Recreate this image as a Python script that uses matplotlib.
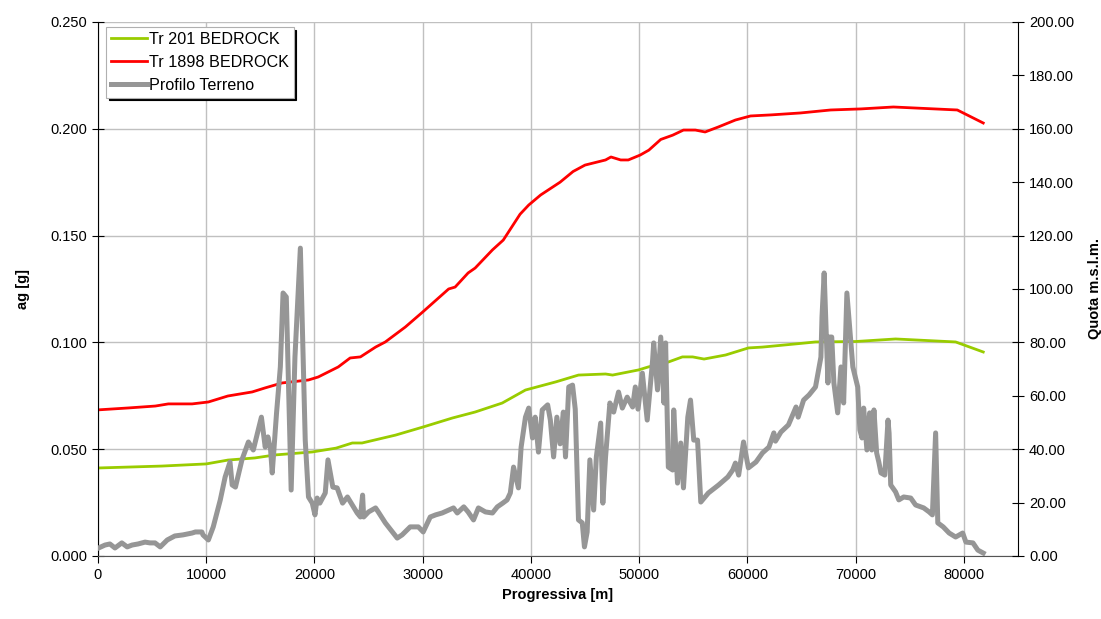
"""
Peak ground acceleration along the alignment with the terrain profile
on a secondary axis.
"""

import matplotlib.pyplot as plt
from matplotlib.ticker import FormatStrFormatter, MultipleLocator

plt.rcParams["font.family"] = ["Liberation Sans", "DejaVu Sans"]

# Tr 201 BEDROCK (ag [g])
tr201_x = [0, 5900, 10000, 12000, 14500, 16350, 19800, 22000, 23500, 24400,
           27500, 30050, 32750, 34850, 37350, 39500, 42300, 44400, 46900,
           47550, 49950, 50850, 52700, 54000, 54950, 56000, 58000, 60100,
           61400, 64500, 66300, 70000, 73700, 79250, 81800]
tr201_ag = [0.0412, 0.0421, 0.0431, 0.0449, 0.0459, 0.0473, 0.0487, 0.0505,
            0.0529, 0.0529, 0.0566, 0.0604, 0.0646, 0.0674, 0.0716, 0.0777,
            0.0815, 0.0847, 0.0852, 0.0847, 0.0871, 0.0885, 0.0908, 0.0932,
            0.0932, 0.0922, 0.0941, 0.0974, 0.0978, 0.0993, 0.1002, 0.1004,
            0.1016, 0.1002, 0.0955]

# Tr 1898 BEDROCK (ag [g])
tr1898_x = [0, 2800, 5300, 6500, 8700, 10200, 12000, 14250, 15450, 17000,
            19450, 20350, 22200, 23300, 24250, 25650, 26550, 28400, 30000,
            32400, 33000, 34200, 34850, 36450, 37450, 39000, 39800, 40900,
            42700, 43900, 45000, 46900, 47400, 48300, 49000, 50100, 50900,
            52000, 53100, 54100, 55200, 56100, 57300, 58900, 60300, 62200,
            64900, 67700, 70500, 73500, 79400, 81800]
tr1898_ag = [0.0684, 0.0693, 0.0702, 0.0712, 0.0712, 0.0721, 0.0749, 0.0768,
             0.0787, 0.0810, 0.0824, 0.0838, 0.0885, 0.0927, 0.0932, 0.0978,
             0.1002, 0.1072, 0.1142, 0.1250, 0.1259, 0.1325, 0.1348, 0.1433,
             0.1479, 0.1600, 0.1643, 0.1690, 0.1750, 0.1800, 0.1830, 0.1854,
             0.1868, 0.1854, 0.1854, 0.1877, 0.1900, 0.1950, 0.1970, 0.1994,
             0.1994, 0.1985, 0.2008, 0.2041, 0.2060, 0.2065, 0.2074, 0.2088,
             0.2093, 0.2102, 0.2088, 0.2027]

# Profilo Terreno (quota m s.l.m.)
terrain_x = [
    0, 650, 1100, 1570, 2200, 2700, 3150, 3700, 4350, 4800, 5270, 5750, 6400,
    7100, 7850, 8700, 9000, 9600, 9700, 10200, 10650, 11300, 11750, 12200,
    12400, 12700, 13300, 13900, 14350, 15100, 15450, 15700, 15950, 16100,
    16500, 16850, 17100, 17400, 17850, 18200, 18700, 18950, 19150, 19450,
    19800, 20050, 20250, 20500, 21000, 21250, 21700, 22100, 22600, 23050,
    23500, 23950, 24250, 24450, 24550, 25000, 25650, 25900, 26550, 27200,
    27650, 28100, 28850, 29600, 30050, 30700, 31200, 31800, 32400, 32850,
    33200, 33800, 34200, 34700, 35150, 35800, 36450, 36900, 37400, 37800,
    38100, 38400, 38850, 39100, 39500, 39800, 40150, 40400, 40700, 41050,
    41550, 41800, 42100, 42400, 42700, 43000, 43200, 43500, 43850, 44100,
    44400, 44750, 44950, 45200, 45450, 45800, 46050, 46450, 46650, 46900,
    47300, 47650, 48100, 48450, 48900, 49400, 49650, 49900, 50300, 50750,
    51250, 51350, 51700, 52000, 52300, 52450, 52700, 53100, 53200, 53550,
    53850, 54100, 54500, 54750, 55050, 55400, 55700, 56400, 57350, 58200,
    58650, 58900, 59200, 59650, 60100, 60800, 61400, 62000, 62450, 62600,
    63100, 63800, 64500, 64700, 65200, 65700, 66300, 66800, 66900, 67100,
    67250, 67450, 67550, 67800, 68000, 68350, 68650, 68900, 69200, 69400,
    69750, 70200, 70400, 70600, 70750, 71050, 71300, 71500, 71700, 71950,
    72150, 72350, 72700, 73000, 73100, 73250, 73700, 74000, 74450, 75100,
    75550, 76300, 76800, 77100, 77200, 77400, 77600, 78100, 78650, 79250,
    79900, 80200, 80850, 81300, 81800,
]
terrain_z = [
    2.9, 4.1, 4.5, 3.0, 4.9, 3.4, 4.1, 4.5, 5.2, 4.9, 4.9, 3.4, 6.0,
    7.5, 7.9, 8.6, 9.0, 9.0, 7.9, 6.0, 10.9, 21.0, 29.6, 35.2,
    26.6, 25.8, 36.0, 42.7, 39.7, 52.0, 40.8, 44.6, 39.7, 31.1,
    53.6, 70.8, 98.5, 97.0, 24.7, 74.5, 115.3, 74.5, 43.4, 22.1,
    19.8, 15.4, 21.7, 19.8, 23.6, 36.0, 25.8, 25.5, 19.8, 22.1,
    19.1, 16.1, 14.6, 22.8, 14.6, 16.5, 18.0, 16.5, 12.4, 9.0,
    6.7, 7.9, 10.9, 10.9, 9.0, 14.6, 15.4, 16.1, 17.2, 18.0,
    16.1, 18.4, 16.5, 13.5, 18.0, 16.5, 16.1, 18.4, 19.8, 21.0,
    23.6, 33.3, 25.5, 40.8, 52.0, 55.4, 44.2, 52.0, 38.9, 54.7,
    56.6, 50.9, 37.1, 52.0, 42.0, 53.9, 37.1, 63.3, 64.0, 55.0,
    13.5, 12.4, 3.4, 9.0, 36.0, 17.2, 37.1, 49.8, 19.8, 37.1,
    57.3, 53.9, 61.4, 55.4, 59.5, 55.8, 63.3, 55.0, 68.5, 50.9,
    73.4, 79.8, 62.2, 82.0, 57.3, 79.8, 33.3, 32.2, 54.7, 27.3,
    42.3, 25.5, 52.0, 58.4, 43.4, 43.4, 20.2, 23.6, 26.6, 29.6,
    32.2, 34.8, 30.3, 42.7, 33.0, 35.2, 38.6, 40.8, 46.1, 43.0,
    46.4, 49.1, 55.8, 52.0, 58.4, 60.3, 63.3, 74.5, 89.5, 106.0,
    88.4, 64.8, 82.0, 82.0, 64.8, 53.6, 70.8, 57.3, 98.5, 88.4,
    70.8, 63.3, 47.2, 44.2, 55.4, 39.7, 53.6, 39.7, 54.7, 38.6,
    35.2, 31.1, 30.3, 50.9, 46.0, 26.6, 24.0, 21.0, 22.1, 21.7,
    19.1, 18.0, 16.5, 15.4, 25.8, 46.1, 12.4, 10.9, 8.6, 7.1,
    8.6, 5.2, 4.9, 2.2, 1.1,
]


def main() -> None:
    fig = plt.figure(figsize=(11.01, 6.19), dpi=100)
    ax = fig.add_axes([0.089, 0.1018, 0.8355, 0.8627])
    ax2 = ax.twinx()

    l1, = ax.plot(tr201_x, tr201_ag, color="#99cc00", lw=2.0,
                  label="Tr 201 BEDROCK")
    l2, = ax.plot(tr1898_x, tr1898_ag, color="#ff0000", lw=2.0,
                  label="Tr 1898 BEDROCK")
    l3, = ax2.plot(terrain_x, terrain_z, color="#969696", lw=3.6,
                   label="Profilo Terreno", solid_joinstyle="round")

    ax.set_xlim(0, 85000)
    ax.set_ylim(0, 0.25)
    ax2.set_ylim(0, 200)

    ax.xaxis.set_major_locator(MultipleLocator(10000))
    ax.yaxis.set_major_locator(MultipleLocator(0.05))
    ax.yaxis.set_major_formatter(FormatStrFormatter("%.3f"))
    ax2.yaxis.set_major_locator(MultipleLocator(20))
    ax2.yaxis.set_major_formatter(FormatStrFormatter("%.2f"))

    ax.grid(True, color="#c0c0c0", lw=1.0)
    ax.set_axisbelow(True)

    for a in (ax, ax2):
        a.spines["top"].set_visible(False)
    ax.spines["right"].set_visible(False)
    ax.spines["left"].set_color("black")
    ax.spines["bottom"].set_color("#555555")
    ax2.spines["left"].set_visible(False)
    ax2.spines["bottom"].set_visible(False)
    ax2.spines["right"].set_color("black")

    ax.tick_params(axis="x", direction="out", length=5, labelsize=10.5,
                   pad=4)
    ax.tick_params(axis="y", direction="inout", length=8, labelsize=10.5,
                   pad=4)
    ax2.tick_params(axis="y", direction="inout", length=8, labelsize=10.5,
                    pad=4)

    ax.set_xlabel("Progressiva [m]", fontsize=10.5, fontweight="bold",
                  labelpad=4)
    ax.set_ylabel("ag [g]", fontsize=10.5, fontweight="bold", labelpad=14)
    ax2.set_ylabel("Quota m.s.l.m.", fontsize=10.5, fontweight="bold",
                   labelpad=10)

    leg = ax2.legend(handles=[l1, l2, l3], loc="upper left",
                     bbox_to_anchor=(0.009, 0.991), borderaxespad=0,
                     fontsize=11.6, handlelength=2.2, handletextpad=0.15,
                     labelspacing=0.5, borderpad=0.3, fancybox=False,
                     framealpha=1, edgecolor="#b0b0b0",
                     shadow={"color": "black", "alpha": 1})
    leg.get_frame().set_linewidth(0.8)

    fig.savefig("out.png", dpi=100)
    plt.close(fig)


if __name__ == "__main__":
    main()
